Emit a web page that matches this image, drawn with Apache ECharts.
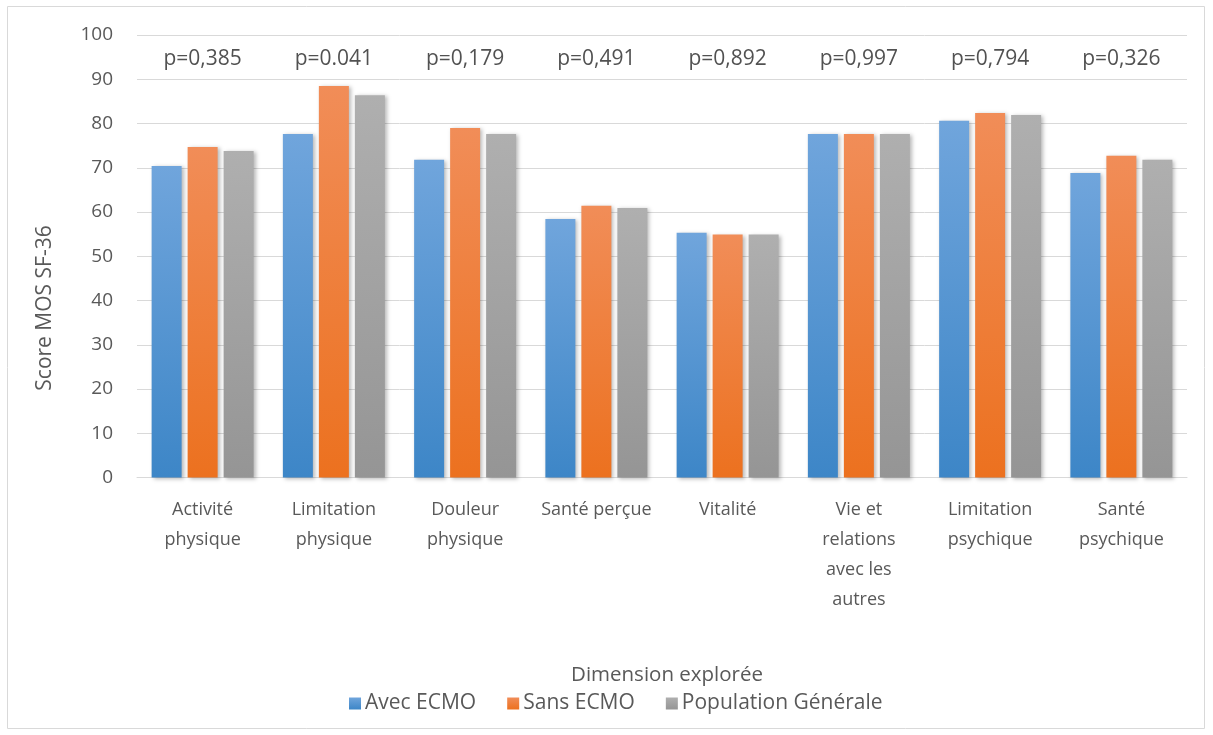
<!DOCTYPE html>
<html><head><meta charset="utf-8">
<script src="https://cdn.jsdelivr.net/npm/echarts@6/dist/echarts.min.js"></script>
<style>html,body{margin:0;padding:0;background:#fff}#c{width:1213px;height:735px}</style>
</head><body><div id="c"></div>
<script>
const categories = ['Activité\nphysique','Limitation\nphysique','Douleur\nphysique','Santé perçue','Vitalité','Vie et\nrelations\navec les\nautres','Limitation\npsychique','Santé\npsychique'];
const avecECMO = [70.4, 77.6, 71.8, 58.4, 55.3, 77.6, 80.6, 68.8];
const sansECMO = [74.7, 88.5, 79.0, 61.4, 54.9, 77.6, 82.4, 72.7];
const populationGenerale = [73.8, 86.4, 77.6, 60.9, 54.9, 77.6, 81.9, 71.8];
const pValues = ['p=0,385','p=0.041','p=0,179','p=0,491','p=0,892','p=0,997','p=0,794','p=0,326'];
const seriesNames = ['Avec ECMO','Sans ECMO','Population Générale'];
const yTicks = [0,10,20,30,40,50,60,70,80,90,100];

const FONT = '"Open Sans", Lato, sans-serif';
const grad = (a,b)=>new echarts.graphic.LinearGradient(0,0,0,1,[{offset:0,color:a},{offset:1,color:b}]);
const colors = [grad('#70a5dc','#3d86c7'), grad('#f18d58','#ec711f'), grad('#afafaf','#959595')];
const shadow = {shadowBlur:4, shadowColor:'rgba(0,0,0,0.28)', shadowOffsetX:2, shadowOffsetY:1};

const chart = echarts.init(document.getElementById('c'));
const barSeries = [avecECMO, sansECMO, populationGenerale].map((d,i)=>({
  name: seriesNames[i], type:'bar', data:d, barWidth:30, barGap:'20%',
  itemStyle: Object.assign({color: colors[i]}, shadow), animation:false
}));
chart.setOption({
  animation:false,
  textStyle:{fontFamily:FONT},
  grid:{left:137, right:26, top:35, bottom:257.5},
  xAxis:{type:'category', data:categories,
    axisTick:{show:false}, axisLine:{lineStyle:{color:'#d9d9d9', width:1}},
    axisLabel:{interval:0, fontSize:18, color:'#595959', lineHeight:30, margin:17, fontFamily:FONT}},
  yAxis:{type:'value', min:yTicks[0], max:yTicks[yTicks.length-1], interval:10,
    axisLine:{show:false}, axisTick:{show:false},
    splitLine:{lineStyle:{color:'#d9d9d9', width:1}},
    axisLabel:{fontSize:19, color:'#595959', margin:24, fontFamily:FONT}},
  legend:{data:seriesNames.map(n=>({name:n, icon:'rect'})), left:344, top:688, itemWidth:12, itemHeight:12, itemGap:31,
    textStyle:{fontSize:21, color:'#595959', fontFamily:FONT, padding:[0,0,0,-1]}},
  graphic:[
    {type:'rect', shape:{x:7.5, y:6.5, width:1197, height:722}, style:{fill:'none', stroke:'#d9d9d9', lineWidth:1}, silent:true},
    {type:'text', x:45, y:308, rotation:Math.PI/2, style:{text:'Score MOS SF-36', fill:'#595959', font:'21px '+FONT, align:'center', verticalAlign:'middle'}},
    {type:'text', x:667, y:675, style:{text:'Dimension explorée', fill:'#595959', font:'20.5px '+FONT, align:'center', verticalAlign:'middle'}}
  ],
  series: barSeries.concat([{
    type:'scatter', name:'p', data: pValues.map((p,i)=>[i,94.5]), symbolSize:0,
    label:{show:true, position:'inside', formatter:(prm)=>pValues[prm.dataIndex], fontSize:21, color:'#262626', fontFamily:FONT},
    silent:true, animation:false
  }])
});
</script></body></html>
